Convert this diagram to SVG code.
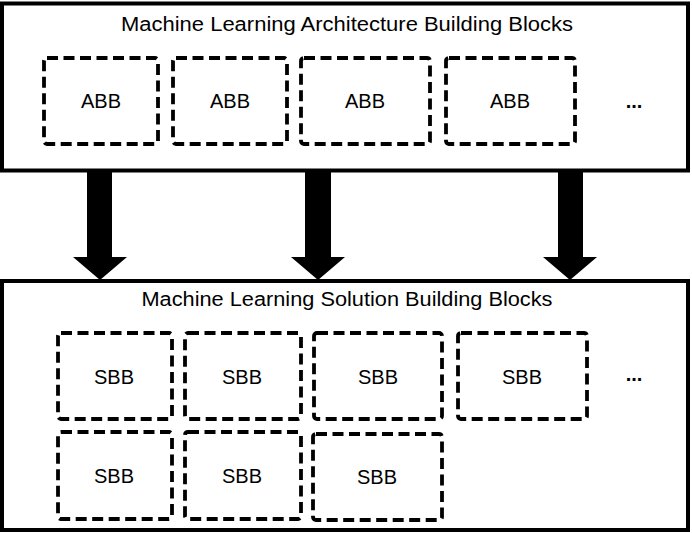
<svg xmlns="http://www.w3.org/2000/svg" width="692" height="533" viewBox="0 0 692 533">
<style>
.frame{fill:#fff;stroke:#000;stroke-width:4}
.bb{fill:none;stroke:#000;stroke-width:3.8;stroke-dasharray:11 5.5}
.t{font-family:"Liberation Sans",Arial,sans-serif;font-size:20px;fill:#000;text-anchor:middle}
.dots{font-weight:bold}
.arrow{fill:#000}
</style>
<rect width="692" height="533" fill="#fff"/>
<g id="architecture">
<rect class="frame" x="2" y="3.5" width="686" height="167"/>
<text class="t" x="347" y="31" textLength="452" lengthAdjust="spacingAndGlyphs">Machine Learning Architecture Building Blocks</text>
</g>
<g id="abb1"><rect class="bb" x="44" y="58" width="114" height="86" rx="3"/><text class="t" x="101" y="108">ABB</text></g>
<g id="abb2"><rect class="bb" x="173" y="58" width="114" height="86" rx="3"/><text class="t" x="230" y="108">ABB</text></g>
<g id="abb3"><rect class="bb" x="301" y="58" width="129" height="86" rx="3"/><text class="t" x="365" y="108">ABB</text></g>
<g id="abb4"><rect class="bb" x="446" y="58" width="129" height="86" rx="3"/><text class="t" x="510" y="108">ABB</text></g>
<g id="abb-more"><text class="t dots" x="634" y="108">...</text></g>
<g id="solution">
<rect class="frame" x="2" y="281" width="686" height="249"/>
<text class="t" x="347" y="306" textLength="411" lengthAdjust="spacingAndGlyphs">Machine Learning Solution Building Blocks</text>
</g>
<g id="sbb1"><rect class="bb" x="58" y="333" width="114" height="86" rx="3"/><text class="t" x="114" y="384">SBB</text></g>
<g id="sbb2"><rect class="bb" x="185" y="333" width="116" height="86" rx="3"/><text class="t" x="242" y="384">SBB</text></g>
<g id="sbb3"><rect class="bb" x="314" y="333" width="128" height="86" rx="3"/><text class="t" x="378" y="384">SBB</text></g>
<g id="sbb4"><rect class="bb" x="458" y="333" width="129" height="86" rx="3"/><text class="t" x="522" y="384">SBB</text></g>
<g id="sbb-more"><text class="t dots" x="634" y="381">...</text></g>
<g id="sbb5"><rect class="bb" x="58" y="432" width="114" height="87" rx="3"/><text class="t" x="114" y="483">SBB</text></g>
<g id="sbb6"><rect class="bb" x="185" y="432" width="116" height="87" rx="3"/><text class="t" x="242" y="483">SBB</text></g>
<g id="sbb7"><rect class="bb" x="313" y="434" width="129" height="86" rx="3"/><text class="t" x="377" y="484">SBB</text></g>
<g id="connectors">
<polygon class="arrow" points="87,172 112,172 112,257 127,257 100,280 73,257 87,257"/>
<polygon class="arrow" points="305,172 331,172 331,257 345,257 318,280 291,257 305,257"/>
<polygon class="arrow" points="558,172 583,172 583,257 597,257 570,280 543,257 558,257"/>
</g>
</svg>
